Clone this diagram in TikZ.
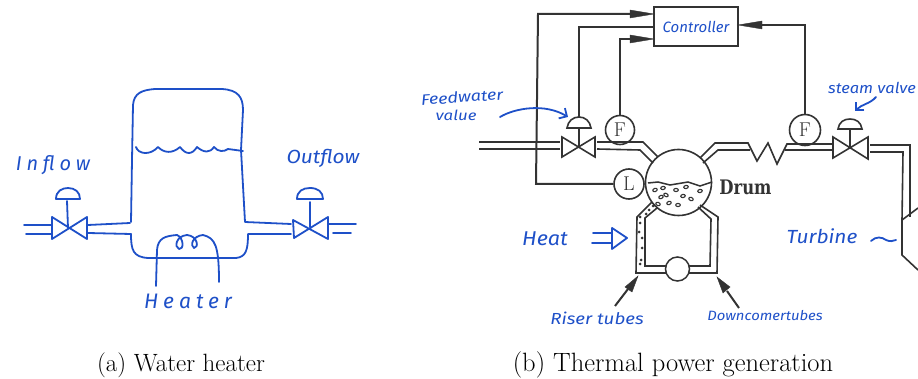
\documentclass[tikz,border=0pt]{standalone}
\usepackage{fontspec}
\usepackage{graphicx}
\newfontfamily\handfont{Fira Sans Italic}
\newfontfamily\handspaced{Fira Sans Italic}[LetterSpace=24]
\newfontfamily\drumfont{DejaVu Serif}
\usetikzlibrary{arrows.meta}
\definecolor{ink}{HTML}{1E50C8}
\definecolor{dk}{HTML}{333333}
\newcommand{\hw}[2]{\scalebox{#1}[1]{#2}}
\tikzset{
  x=1pt,y=-1pt,
  blue line/.style={draw=ink,line width=1.8pt,line join=round,line cap=round},
  dark line/.style={draw=dk,line width=1.6pt,line join=miter},
  thick dark/.style={draw=dk,line width=2pt},
  hand/.style={text=ink,inner sep=0pt,font=\handfont\fontsize{#1}{#1}\selectfont},
  handwide/.style={text=ink,inner sep=0pt,font=\handspaced\fontsize{#1}{#1}\selectfont},
  gauge/.style={circle,draw=dk,line width=1.6pt,fill=white,inner sep=0pt,font=\fontsize{20}{20}\selectfont,text=dk},
  bubble/.style={draw=dk,line width=1.1pt},
  capt/.style={inner sep=0pt,text=black},
}
\begin{document}
\begin{tikzpicture}
\useasboundingbox (0,0) rectangle (918,379);
% ---------- (a) water heater ----------
\draw[blue line] (131,222) -- (132,160) -- (133,105) .. controls (134,93) and (142,90) .. (155,89) -- (222,89) .. controls (238,90) and (243,97) .. (243,110) -- (241,150) -- (245,222) -- (291,224);
\draw[blue line] (131,234) .. controls (131,250) and (133,257) .. (148,258) -- (236,258) .. controls (246,257) and (248,250) .. (248,234) -- (291,234);
\draw[blue line] (88,225) -- (130,223);
\draw[blue line] (88,233) -- (131,234);
\draw[blue line] (24,225) -- (52,225);
\draw[blue line] (26,234) -- (52,234);
\draw[blue line] (52,217) -- (52,239) -- (87,217) -- (87,239) -- cycle;
\draw[blue line] (68,228) -- (67,201);
\draw[blue line] (56,199) .. controls (56,191) and (62,188) .. (68,188) .. controls (75,188) and (80,192) .. (80,199) -- cycle;
\draw[blue line] (293,220) -- (294,238) -- (328,217) -- (328,239) -- cycle;
\draw[blue line] (310,227) -- (310,202);
\draw[blue line] (297,199) .. controls (297,191) and (303,188) .. (310,188) .. controls (318,188) and (323,192) .. (323,199) -- cycle;
\draw[blue line] (329,224) -- (356,224);
\draw[blue line] (333,233) -- (351,233);
\draw[blue line] (136,147) .. controls (138,154) and (150,156) .. (158,147) .. controls (164,153) and (172,154) .. (180,147) .. controls (186,155) and (192,155) .. (197,147) .. controls (204,153) and (210,153) .. (214,147) .. controls (218,152) and (224,152) .. (228,149) -- (243,151);
\draw[blue line] (156,286) -- (157,250) .. controls (158,238) and (165,236) .. (177,235) .. controls (184,238) and (184,250) .. (179,249) .. controls (174,247) and (176,236) .. (187,235) .. controls (198,236) and (199,248) .. (194,248) .. controls (190,246) and (192,236) .. (203,235) .. controls (215,238) and (219,245) .. (219,282);
\node[handwide=20] (inflow) at (53,165) {Inflow};
\node[hand=19] (outflow) at (323,158) {\hw{1.1}{Outflow}};
\node[handwide=21] (heater) at (188,301) {Heater};
% ---------- (b) thermal power ----------
\node[draw=dk,line width=1.6pt,minimum width=84pt,minimum height=39pt,inner sep=0pt,hand=15] (ctrl) at (696,26.5) {Controller};
\node[gauge,minimum size=29pt] (f1) at (620,130) {F};
\node[gauge,minimum size=31pt] (f2) at (805,130) {F};
\node[gauge,minimum size=30pt] (lv) at (629,184) {L};
\node[circle,draw=dk,line width=1.6pt,minimum size=66pt,inner sep=0pt] (drum) at (678.5,182.5) {};
\coordinate (t1) at (536,184);
\coordinate (t2) at (538,14);
\draw[thick dark] (lv.west) -- (t1) -- (t2) -- (632,14);
\draw[draw=dk,fill=dk] (630,10) -- (654,14) -- (630,18) -- cycle;
\coordinate (c1) at (579,27);
\coordinate (vc1) at (579,118);
\draw[thick dark] (ctrl.west|-c1) -- (c1) -- (vc1);
\coordinate (f1t) at (620,39);
\draw[thick dark] (f1.north) -- (f1t) -- (632,39);
\draw[draw=dk,fill=dk] (630,35) -- (654,39) -- (630,43) -- cycle;
\coordinate (f2t) at (805,25);
\draw[thick dark] (f2.north) -- (f2t) -- (760,25);
\draw[draw=dk,fill=dk] (762,21) -- (738,25) -- (762,29) -- cycle;
% valves
\draw[dark line] (562,137) -- (562,157) -- (595,137) -- (595,157) -- cycle;
\draw[dark line] (579,147) -- (579,128);
\draw[dark line] (567,128) .. controls (568,121) and (573,117) .. (579,117) .. controls (585,117) and (590,121) .. (591,128) -- cycle;
\draw[dark line] (833,137) -- (833,158) -- (868,137) -- (868,159) -- cycle;
\draw[dark line] (850,148) -- (850,129);
\draw[dark line] (838,129) .. controls (839,122) and (844,119) .. (850,119) .. controls (856,119) and (861,122) .. (862,129) -- cycle;
% pipes
\draw[dark line] (479,142) -- (560,142);
\draw[dark line] (479,149) -- (560,149);
\draw[dark line] (597,142) -- (643,142) -- (658,157);
\draw[dark line] (597,149) -- (640,150) -- (653,163);
\draw[dark line] (700,158) -- (715,143) -- (748,143) -- (757,161) -- (768,143) -- (777,164) -- (787,144) -- (832,144);
\draw[dark line] (703,163) -- (718,150) -- (750,150);
\draw[dark line] (785,150) -- (832,150);
\draw[dark line] (870,145) -- (910,145) -- (910,217);
\draw[dark line] (870,152) -- (903,152) -- (902,220);
\draw[dark line] (918,208) -- (902,220) -- (902,255) -- (918,270);
% water in drum
\draw[draw=dk,line width=1.5pt] (648,183) -- (658,182) -- (670,185) -- (688,182) -- (700,186) -- (712,182);
\foreach \a/\b/\r in {655/190/20,663/188/10,661/197/25,676/190/0,686/187/10,700/191/10,683/196/10,691/199/-20,669/203/20,678/205/0,658/204/-20,666/195/-30}{
  \draw[bubble,rotate around={\r:(\a,\b)}] (\a,\b) ellipse [x radius=2.3pt,y radius=1.6pt];
}
% tubes
\draw[dark line] (652,202) -- (637,217) -- (636,273) -- (667,273);
\draw[dark line] (657,208) -- (645,218) -- (645,266) -- (667,266);
\draw[dark line] (700,205) -- (718,217) -- (717,273) -- (688,273);
\draw[dark line] (698,207) -- (711,219) -- (710,266) -- (688,266);
\node[circle,draw=dk,line width=1.5pt,fill=white,minimum size=24pt,inner sep=0pt] (pump) at (677.5,269) {};
\foreach \a/\b in {640/217,639/232,642/238,642/248,641/260,640/223,649/210,653/206,646/214,640/264}{
  \fill[dk] (\a,\b) circle (1.5pt);
}
\node[inner sep=0pt,text=dk,font=\drumfont\bfseries\fontsize{20}{20}\selectfont] (drumlbl) at (745.5,187) {\hw{0.82}{Drum}};
% labels
\node[hand=15,rotate=4] (fw1) at (462,97) {\hw{1.2}{Feedwater}};
\node[hand=14] (fw2) at (456,115) {\hw{1.2}{value}};
\node[hand=15] (steam) at (872,88) {\hw{1.1}{steam valve}};
\node[hand=20] (heat) at (545,239) {\hw{1.08}{Heat}};
\node[hand=19] (turb) at (822,236) {\hw{1.1}{Turbine}};
\node[hand=16] (riser) at (597,318) {\hw{1.17}{Riser tubes}};
\node[hand=13.5] (down) at (765,316) {\hw{1.1}{Downcomertubes}};
% blue arrows
\coordinate (fwa) at (500,117);
\coordinate (fwb) at (568,117);
\draw[blue line,-{Straight Barb[length=6pt]}] (fwa) .. controls (515,108) and (545,103) .. (fwb);
\coordinate (sa) at (876,97);
\coordinate (sb) at (855,111);
\draw[blue line,-{Straight Barb[length=6pt]}] (sa) .. controls (870,104) and (862,104) .. (sb);
\draw[blue line] (593,233) -- (612,233);
\draw[blue line] (592,243) -- (612,243);
\draw[blue line] (612,228) -- (627,238) -- (612,249) -- cycle;
\draw[blue line] (871,241) .. controls (876,236) and (882,237) .. (886,240) .. controls (890,242) and (893,241) .. (896,240);
% riser / downcomer arrows
\coordinate (ra) at (615,306);
\coordinate (rb) at (638,276);
\draw[thick dark] (ra) -- (628,289);
\draw[draw=dk,fill=dk] (625,287) -- (638,276) -- (632,292) -- cycle;
\coordinate (da) at (739,308);
\coordinate (db) at (717,277);
\draw[thick dark] (da) -- (727,291);
\draw[draw=dk,fill=dk] (723,293) -- (717,277) -- (730,287) -- cycle;
% captions
\node[capt,font=\fontsize{25}{25}\selectfont] (capa) at (181,365) {(a) Water heater};
\node[capt,font=\fontsize{26.5}{26.5}\selectfont] (capb) at (673,365) {(b) Thermal power generation};
\end{tikzpicture}
\end{document}
